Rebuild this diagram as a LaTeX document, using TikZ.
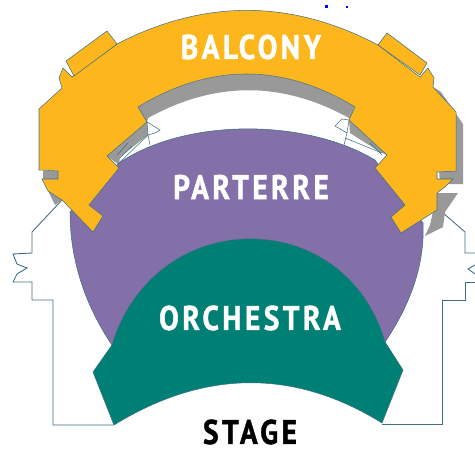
\documentclass[tikz,border=0pt]{standalone}
\usepackage{fontspec}
\setmainfont{PT Sans}
\newfontfamily\seatfont[LetterSpace=10,FakeStretch=0.86,FakeBold=1.2]{PT Sans Bold}
\definecolor{balconyorange}{HTML}{FDB71C}
\definecolor{parterrepurple}{HTML}{8470A9}
\definecolor{orchestrateal}{HTML}{008074}
\definecolor{shadowgrey}{HTML}{999999}
\definecolor{edgeblue}{HTML}{3F6E85}
\begin{document}
\begin{tikzpicture}[x=0.02cm,y=-0.02cm,
		edge/.style={draw=edgeblue,line width=0.3pt},
		shadow/.style={fill=shadowgrey},
		seat/.style={font=\seatfont\fontsize{19.5}{20}\selectfont,text=white,inner sep=0pt}]
				\useasboundingbox (0,0) rectangle (475,452);

				%Building
				\draw[edge,line width=0.5pt] (62,200) -- (32,232) -- (32,253) -- (13,254) -- (17,264) -- (27,268) -- (17,274) -- (13,282) -- (32,282) -- (32,300) -- (53,300) -- (53,425) -- (114,425);
				\draw[edge,line width=0.5pt] (442,212) -- (465,232) -- (465,253) -- (475,253);
				\draw[edge,line width=0.5pt] (475,265) -- (468,269) -- (475,274);
				\draw[edge,line width=0.5pt] (475,282) -- (465,282) -- (465,300) -- (442,300) -- (442,424) -- (382,424);

				%Shadows
				\fill[shadow] (138,107) .. controls (210,63) and (283,63) .. (355,107) -- (349,120) -- (349,118) .. controls (282,81) and (215,81) .. (148,118) -- (147,122) -- cycle;
				\fill[shadow] (147,122) -- (148,135) -- (120,157) -- (119,165) -- (107,156) -- cycle;
				\fill[shadow] (349,120) -- (387,155) -- (380,152) -- (350,133) -- cycle;
				\fill[shadow] (433,87) -- (441,92) -- (463,124) -- (463,184) -- (440,184) -- cycle;
				\fill[shadow] (437,193) -- (458,193) -- (445,212) -- (443,227) -- (425,236) -- (430,225) -- cycle;
				\fill[shadow] (48,191) -- (62,200) -- (55,205) -- cycle;
				\fill[shadow] (43,171) -- (58,171) -- (58,179) -- (43,179) -- cycle;

				%Sections
				\path[fill=parterrepurple,edge] (119,163) .. controls (185,118) and (305,118) .. (375,160) -- (423,223) .. controls (425,265) and (410,305) .. (385,342) -- (112,345) .. controls (85,305) and (70,260) .. (70,212) -- cycle;
				\path[fill=orchestrateal,edge] (114,425) -- (93,372) -- (112,345) .. controls (155,204) and (345,204) .. (385,342) -- (403,370) -- (382,423) .. controls (295,369) and (205,369) .. (114,425) -- cycle;

				%Small boxes
				\draw[edge,fill=white] (147,122) -- (160,130) -- (155,133) -- (148,135) -- cycle;
				\draw[edge] (148,135) -- (150,145);
				\draw[edge] (148,135) -- (119,163);
				\draw[edge,fill=white] (349,120) -- (342,119) -- (335,126) -- (347,133) -- cycle;
				\draw[edge] (347,133) -- (344,145);
				\draw[edge] (345,138) -- (382,153);
				\draw[edge] (117,155) -- (128,143);
				\draw[edge] (120,158) -- (132,146);
				\draw[edge] (370,143) -- (382,155);

				%Balcony
				\path[fill=balconyorange,edge] (39,109) -- (62,88) -- (59,78) -- (63,68) -- (72,77) -- (117,44) .. controls (204,-1) and (291,-1) .. (378,45) -- (420,77) -- (428,68) -- (434,78) -- (433,87) -- (456,112) -- (456,171) -- (437,172) -- (437,179) -- (453,179) -- (445,187) -- (437,193) -- (437,210) -- (401,233) -- (391,217) -- (405,205) -- (375,168) -- (387,155) -- (349,120) -- (355,107) .. controls (283,63) and (210,63) .. (138,107) -- (147,122) -- (107,156) -- (119,168) -- (89,205) -- (103,216) -- (93,232) -- (62,200) -- (48,191) -- (42,179) -- (58,179) -- (58,171) -- (39,170) -- cycle;
				\path[fill=balconyorange,edge] (66,61) -- (107,31) -- (117,44) -- (74,76) -- cycle;
				\path[fill=balconyorange,edge] (378,45) -- (387,33) -- (427,63) -- (420,75) -- cycle;

				%Labels
				\node[seat] (balcony)   at (251,47)  {BALCONY};
				\node[seat] (parterre)  at (251,187) {PARTERRE};
				\node[seat] (orchestra) at (250,318) {ORCHESTRA};
				\node[seat,text=black] (stage) at (250,432) {STAGE};

				%Specks
				\fill[blue] (325,5) rectangle (328,8);
				\fill[blue] (346,6) rectangle (348,8);
		\end{tikzpicture}
\end{document}
